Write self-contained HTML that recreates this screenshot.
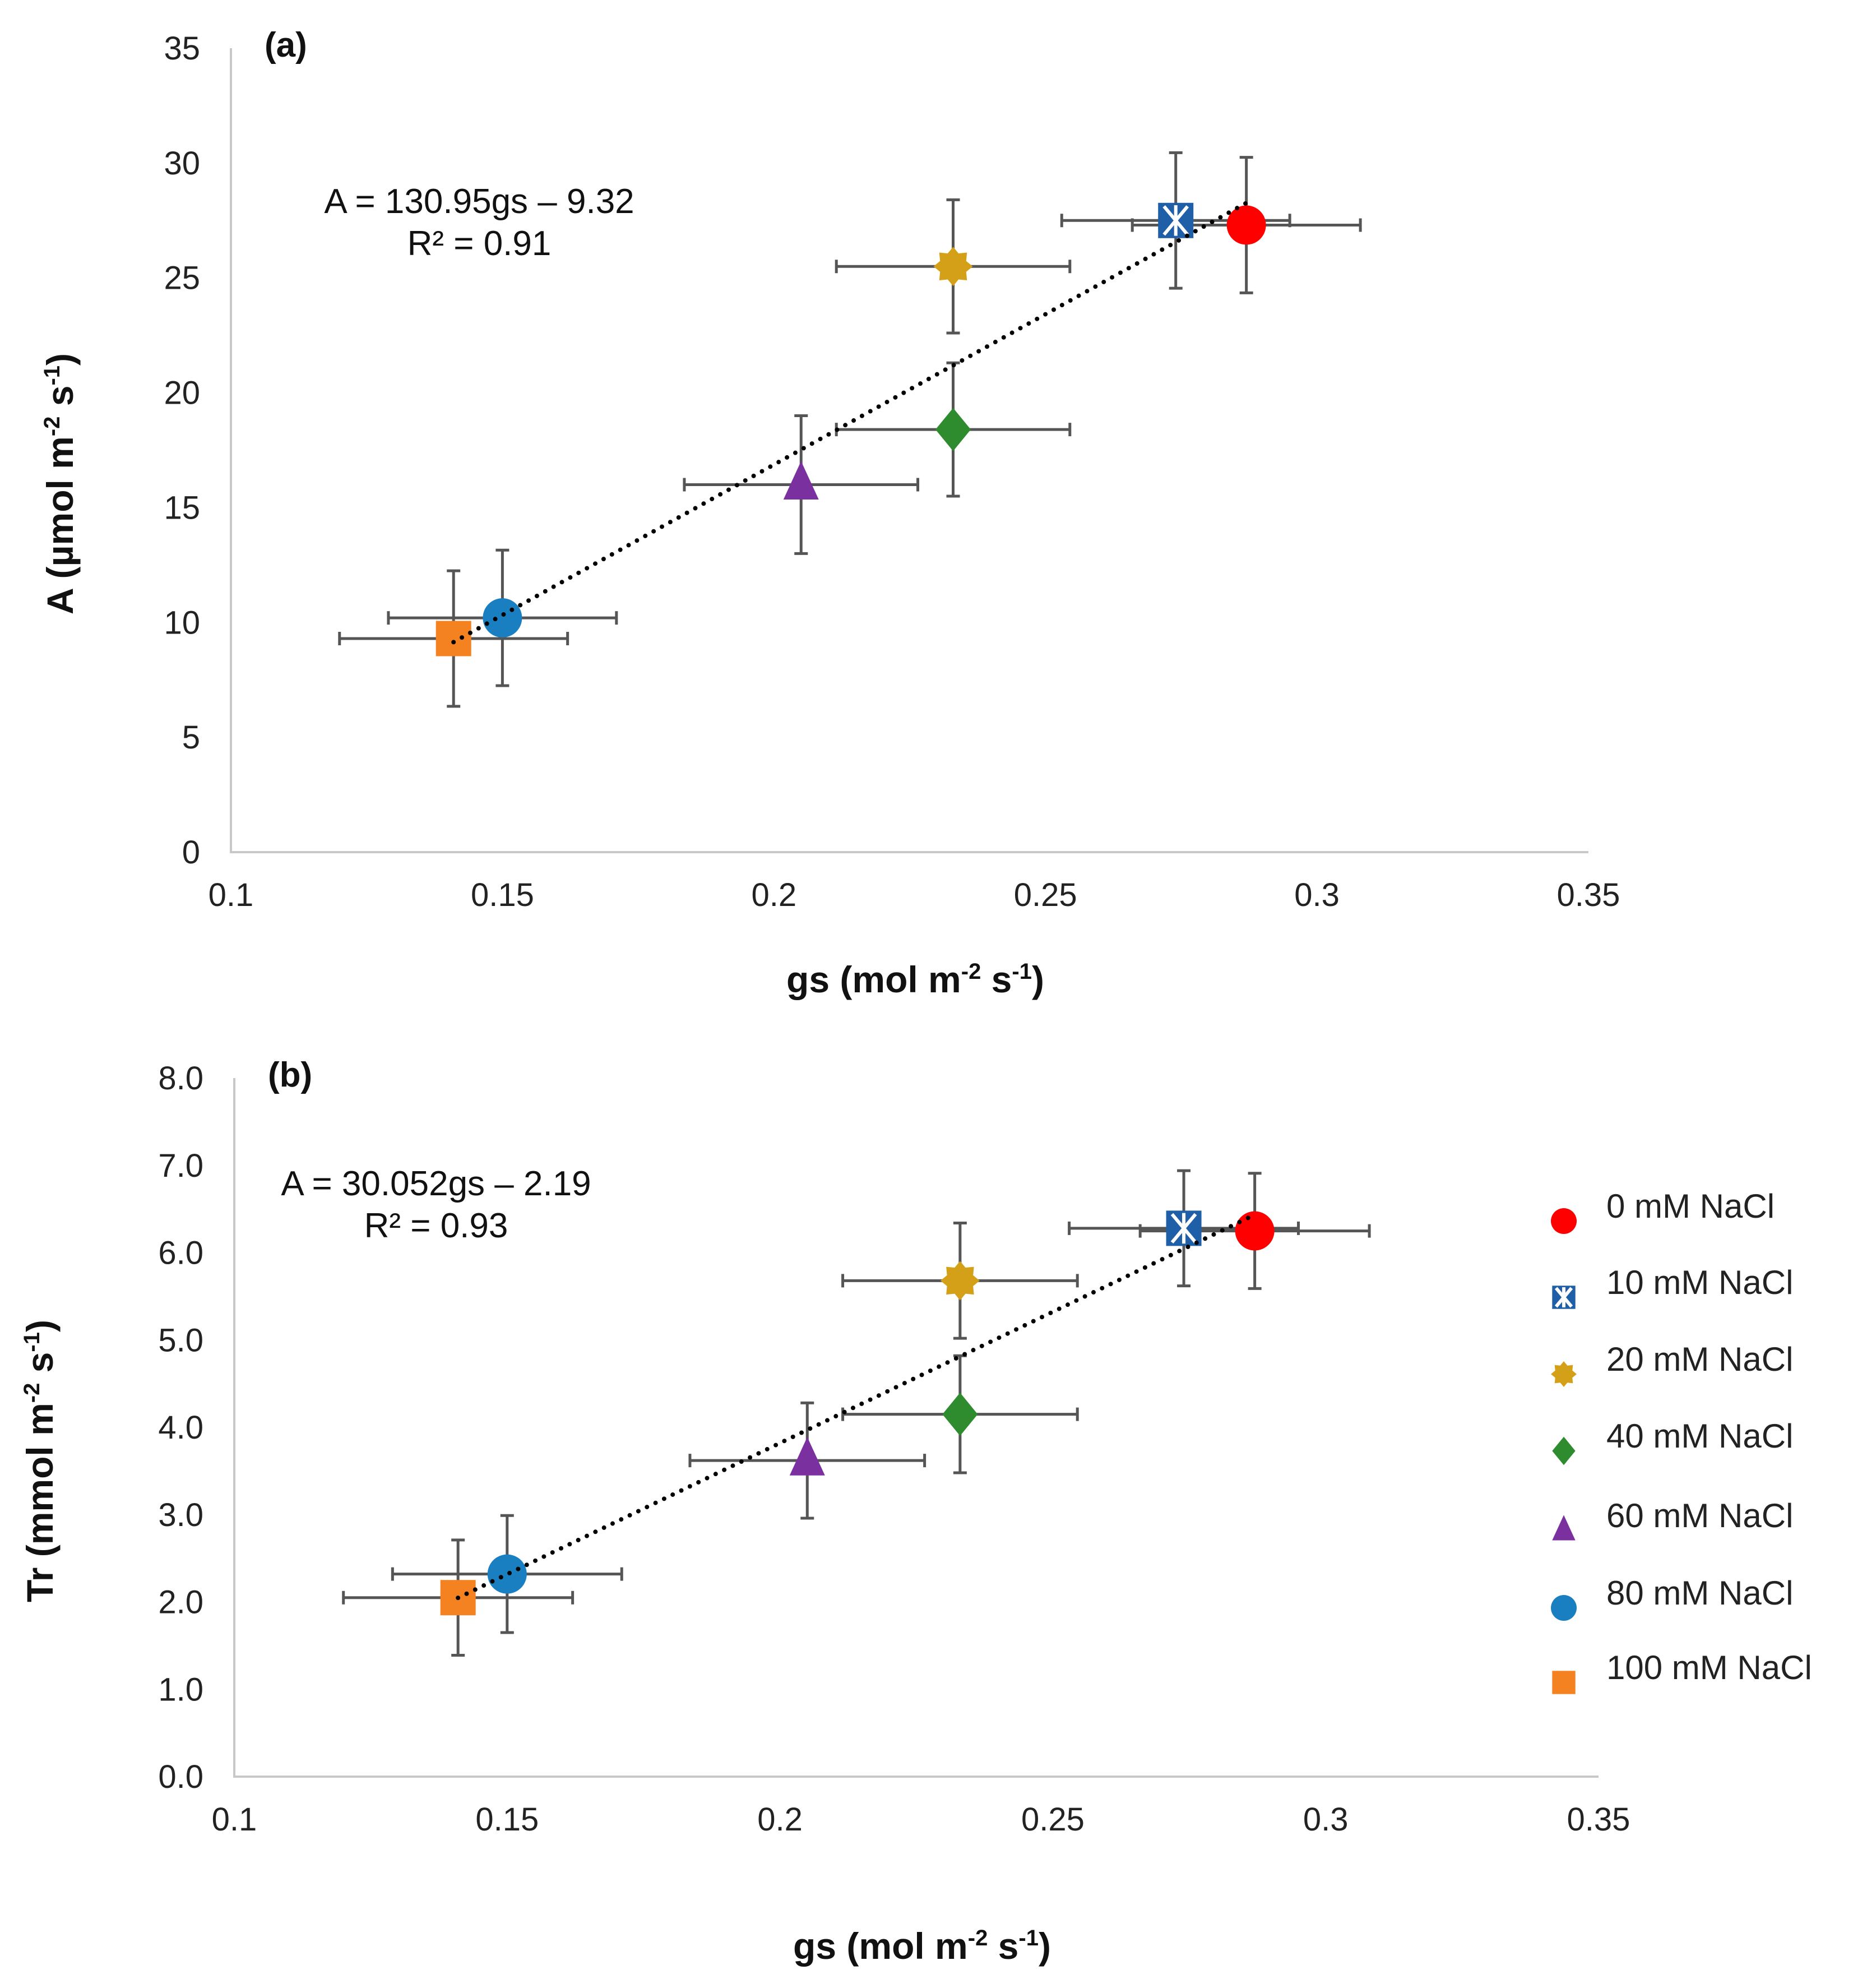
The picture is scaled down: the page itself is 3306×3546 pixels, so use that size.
<!DOCTYPE html>
<html><head><meta charset="utf-8"><style>
html,body{margin:0;padding:0;background:#fff}
svg{display:block;font-family:"Liberation Sans",Arial,sans-serif}
</style></head><body>
<svg id="chart" width="3306" height="3546" viewBox="0 0 3306 3546" xmlns="http://www.w3.org/2000/svg"></svg>
<script>
const treatments = ["0 mM NaCl","10 mM NaCl","20 mM NaCl","40 mM NaCl","60 mM NaCl","80 mM NaCl","100 mM NaCl"];
const gsValues = [0.287,0.274,0.233,0.233,0.205,0.150,0.141];
const gsErr = [0.021,0.021,0.0215,0.0215,0.0215,0.021,0.021];
const aValues = [27.3,27.5,25.5,18.4,16.0,10.2,9.3];
const aErr = [2.95,2.95,2.9,2.9,3.0,2.95,2.95];
const trValues = [6.25,6.28,5.68,4.15,3.62,2.32,2.05];
const trErr = [0.66,0.66,0.66,0.67,0.66,0.67,0.66];
const xTicks = ["0.1","0.15","0.2","0.25","0.3","0.35"];
const aTicks = ["0","5","10","15","20","25","30","35"];
const trTicks = ["0.0","1.0","2.0","3.0","4.0","5.0","6.0","7.0","8.0"];
const aFit = [130.95,-9.32];
const trFit = [30.052,-2.19];
const colors = ["#ff0000","#1f5fa8","#d4a017","#2e8b2e","#7b30a0","#1a7fc1","#f58220"];
const shapes = ["circle","xsquare","star","diamond","triangle","circle","square"];

const NS="http://www.w3.org/2000/svg";
const svg=document.getElementById('chart');
function el(tag,attrs,parent){const e=document.createElementNS(NS,tag);for(const k in attrs)e.setAttribute(k,attrs[k]);(parent||svg).appendChild(e);return e;}

function marker(g,shape,cx,cy,col,s){
  let m;
  if(shape==="circle") m=el('circle',{cx,cy,r:s*0.5,fill:col},g);
  else if(shape==="square") m=el('rect',{x:cx-s*0.45,y:cy-s*0.45,width:s*0.9,height:s*0.9,fill:col},g);
  else if(shape==="diamond") m=el('polygon',{points:`${cx},${cy-s*0.55} ${cx+s*0.45},${cy} ${cx},${cy+s*0.55} ${cx-s*0.45},${cy}`,fill:col},g);
  else if(shape==="triangle") m=el('polygon',{points:`${cx},${cy-s*0.6} ${cx+s*0.45},${cy+s*0.38} ${cx-s*0.45},${cy+s*0.38}`,fill:col},g);
  else if(shape==="star"){let p=[];for(let i=0;i<16;i++){const r=i%2?s*0.36:s*0.5;const a=i*Math.PI/8;p.push((cx+r*Math.sin(a))+","+(cy-r*Math.cos(a)));}m=el('polygon',{points:p.join(' '),fill:col},g);}
  else if(shape==="xsquare"){m=el('rect',{x:cx-s*0.45,y:cy-s*0.45,width:s*0.9,height:s*0.9,fill:col},g);
    const w=s*0.3;el('path',{d:`M${cx-w} ${cy-w*1.2}L${cx+w} ${cy+w*1.2}M${cx+w} ${cy-w*1.2}L${cx-w} ${cy+w*1.2}M${cx} ${cy-w*1.3}L${cx} ${cy+w*1.3}`,stroke:"#fff","stroke-width":6},g);}
  return m;
}

function panel(cfg){
  const {x0,x1,y0,y1,yTicks,yMax,vals,errs,fit,label,eq,r2,eqX,eqY,yTitle,yTitleX,xTitleY,name}=cfg;
  const g=el('g',{});
  
  
  const xs=v=>x0+(v-0.1)/0.25*(x1-x0);
  const ys=v=>y0-(v/yMax)*(y0-y1);
  const ax=el('path',{d:`M${x0} ${y1}L${x0} ${y0}L${x1} ${y0}`,stroke:"#c8c8c8","stroke-width":4,fill:"none"},g);
  
  
  xTicks.forEach((t,i)=>{const tx=el('text',{x:xs(0.1+i*0.05),y:y0+96,"font-size":58,"text-anchor":"middle",fill:"#222"},g);tx.textContent=t;
    });
  yTicks.forEach((t,i)=>{const v=i*yMax/(yTicks.length-1);const tx=el('text',{x:x0-55,y:ys(v)+20,"font-size":58,"text-anchor":"end",fill:"#222"},g);tx.textContent=t;
    });
  const lb=el('text',{x:x0+60,y:y1+15,"font-size":62,"font-weight":"bold",fill:"#111"},g);lb.textContent=label;
  
  const xt=el('text',{x:(x0+x1)/2+10,y:xTitleY,"font-size":66,"font-weight":"bold","text-anchor":"middle",fill:"#111"},g);
  xt.innerHTML='gs (mol m<tspan dy="-24" font-size="40">-2</tspan><tspan dy="24"> s</tspan><tspan dy="-24" font-size="40">-1</tspan><tspan dy="24">)</tspan>';
  
  const yc=(y0+y1)/2+60;
  const yt=el('text',{x:yTitleX,y:yc,"font-size":66,"font-weight":"bold","text-anchor":"middle",fill:"#111",transform:`rotate(-90 ${yTitleX} ${yc})`},g);
  yt.innerHTML=yTitle;
  
  const e1=el('text',{x:eqX,y:eqY,"font-size":62,"text-anchor":"middle",fill:"#111"},g);e1.textContent=eq;
  
  const e2=el('text',{x:eqX,y:eqY+75,"font-size":62,"text-anchor":"middle",fill:"#111"},g);e2.textContent=r2;
  
  vals.forEach((v,i)=>{const cx=xs(gsValues[i]),cy=ys(v);
    const eb=el('path',{d:`M${xs(gsValues[i]-gsErr[i])} ${cy}L${xs(gsValues[i]+gsErr[i])} ${cy}M${xs(gsValues[i]-gsErr[i])} ${cy-12}L${xs(gsValues[i]-gsErr[i])} ${cy+12}M${xs(gsValues[i]+gsErr[i])} ${cy-12}L${xs(gsValues[i]+gsErr[i])} ${cy+12}M${cx} ${ys(v-errs[i])}L${cx} ${ys(v+errs[i])}M${cx-12} ${ys(v-errs[i])}L${cx+12} ${ys(v-errs[i])}M${cx-12} ${ys(v+errs[i])}L${cx+12} ${ys(v+errs[i])}`,stroke:"#555","stroke-width":5,fill:"none"},g);
    });
  vals.forEach((v,i)=>{const m=marker(g,shapes[i],xs(gsValues[i]),ys(v),colors[i],70);
    });
  const gmin=Math.min(...gsValues),gmax=Math.max(...gsValues);
  const tl=el('line',{x1:xs(gmin),y1:ys(fit[0]*gmin+fit[1]),x2:xs(gmax),y2:ys(fit[0]*gmax+fit[1]),stroke:"#000","stroke-width":8,"stroke-dasharray":"0 17","stroke-linecap":"round"},g);
  
}

panel({name:'panel-a',x0:412,x1:2834,y0:1520,y1:86,yTicks:aTicks,yMax:35,vals:aValues,errs:aErr,fit:aFit,label:'(a)',eq:'A = 130.95gs – 9.32',r2:'R² = 0.91',eqX:855,eqY:380,
  yTitle:'A (µmol m<tspan dy="-24" font-size="40">-2</tspan><tspan dy="24"> s</tspan><tspan dy="-24" font-size="40">-1</tspan><tspan dy="24">)</tspan>',yTitleX:130,xTitleY:1770});
panel({name:'panel-b',x0:418,x1:2852,y0:3169,y1:1923,yTicks:trTicks,yMax:8,vals:trValues,errs:trErr,fit:trFit,label:'(b)',eq:'A = 30.052gs – 2.19',r2:'R² = 0.93',eqX:778,eqY:2132,
  yTitle:'Tr (mmol m<tspan dy="-24" font-size="40">-2</tspan><tspan dy="24"> s</tspan><tspan dy="-24" font-size="40">-1</tspan><tspan dy="24">)</tspan>',yTitleX:94,xTitleY:3494});

const legY=[2172,2308,2445,2582,2724,2862,2995];
treatments.forEach((t,i)=>{
  const g=el('g',{});
  
  
  marker(g,shapes[i],2790,legY[i]+6,colors[i],46);
  const tx=el('text',{x:2866,y:legY[i],"font-size":60,fill:"#222"},g);tx.textContent=t;
});
</script>
</body></html>
